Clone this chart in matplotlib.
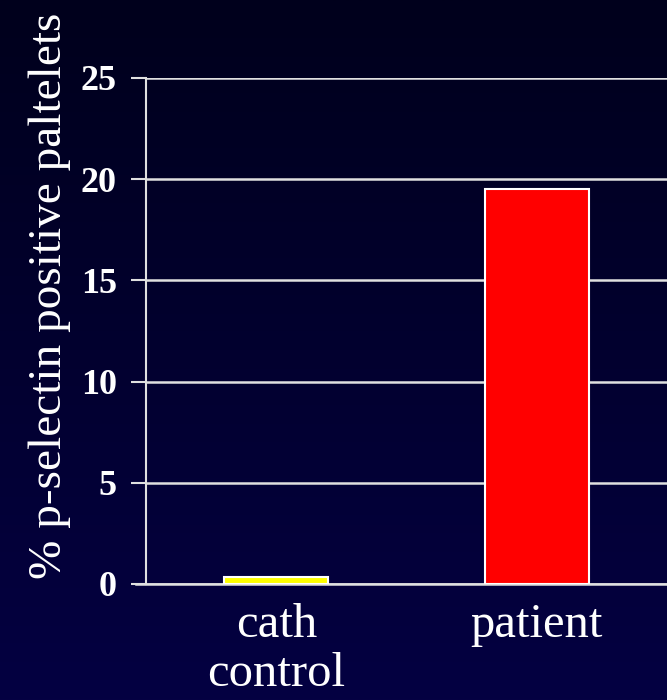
import numpy as np
import matplotlib.pyplot as plt
from matplotlib.colors import LinearSegmentedColormap

categories = ["cath\ncontrol", "patient"]
values = [0.35, 19.5]
bar_colors = ["#ffff00", "#ff0000"]
yticks = [0, 5, 10, 15, 20, 25]

plt.rcParams['font.family'] = ['Liberation Serif', 'DejaVu Serif']

fig = plt.figure(figsize=(6.67, 7), dpi=100)

# dark navy gradient background
bg = fig.add_axes([0, 0, 1, 1], zorder=-10)
grad = np.linspace(0, 1, 256).reshape(-1, 1)
cmap = LinearSegmentedColormap.from_list("bg", ["#00001c", "#040042"])
bg.imshow(grad, aspect='auto', cmap=cmap, extent=[0, 1, 0, 1], origin='upper')
bg.axis('off')

ax = fig.add_axes([146 / 667, 1 - 584 / 700, 521 / 667, 506 / 700])
ax.patch.set_alpha(0)

x = np.arange(len(categories))
ax.bar(x, values, width=0.4, color=bar_colors, edgecolor='white', linewidth=1.5, zorder=3)

ax.set_xlim(-0.5, 1.5)
ax.set_ylim(0, 25)
ax.set_yticks(yticks)
ax.set_yticklabels([str(t) for t in yticks], fontsize=26, fontweight='bold', color='white')
ax.set_xticks(x)
ax.set_xticklabels(categories, fontsize=35, color='white', linespacing=1.12)
ax.tick_params(axis='x', length=0, pad=14)
ax.tick_params(axis='y', length=11, width=1.5, color='#e0e0e0', pad=10)

ax.grid(axis='y', color='#e0e0e0', linewidth=1.8, zorder=1)
ax.set_axisbelow(True)
for side in ['top', 'right']:
    ax.spines[side].set_visible(False)
ax.spines['left'].set_color('#e0e0e0')
ax.spines['left'].set_linewidth(1.5)
ax.spines['bottom'].set_color('#e0e0e0')
ax.spines['bottom'].set_linewidth(1.8)
ax.spines['bottom'].set_bounds(-0.54, 1.5)

ax.set_ylabel("% p-selectin positive paltelets", fontsize=34, color='white')
ax.yaxis.set_label_coords(-75 / 521, (584 - 296) / 506)

fig.savefig("out.png", dpi=100)
